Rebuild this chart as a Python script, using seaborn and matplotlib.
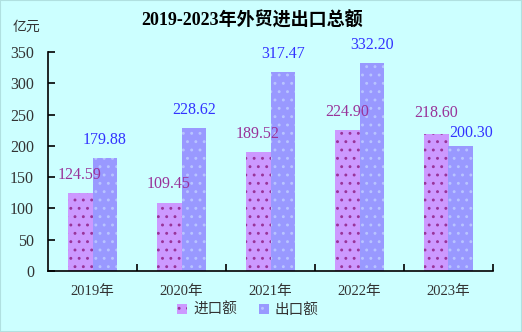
import matplotlib
matplotlib.use("Agg")
import matplotlib.pyplot as plt
from matplotlib.patches import Patch
import seaborn as sns
import pandas as pd

# Data
years = ["2019年", "2020年", "2021年", "2022年", "2023年"]
imports = [124.59, 109.45, 189.52, 224.90, 218.60]
exports = [179.88, 228.62, 317.47, 332.20, 200.30]
series_names = ["进口额", "出口额"]
y_ticks = [0, 50, 100, 150, 200, 250, 300, 350]

df = pd.DataFrame({
    "year": years * 2,
    "value": imports + exports,
    "type": [series_names[0]] * len(years) + [series_names[1]] * len(years),
})

sns.set_theme(style="white")
plt.rcParams["font.family"] = ["Liberation Serif", "Noto Sans CJK SC", "DejaVu Sans"]
plt.rcParams["hatch.linewidth"] = 0.9

bg = "#CCFFFF"
bar_colors = ["#CC99FF", "#9999FF"]
dot_colors = ["#993399", "#B8C4FF"]
label_colors = ["#993399", "#3333FF"]
text_color = "#333333"

fig = plt.figure(figsize=(5.22, 3.32), dpi=100, facecolor=bg)
ax = fig.add_axes([48 / 522, 1 - 271 / 332, (493 - 48) / 522, (271 - 52) / 332])
ax.set_facecolor(bg)

sns.barplot(data=df, x="year", y="value", hue="type", palette=bar_colors,
            width=0.56, gap=0, dodge=True, legend=False, ax=ax,
            linewidth=0, saturation=1)

# value labels sit above each bar; the last pair is spread apart so the
# two close values stay readable
label_offsets = {(0, 4): (0, 15), (1, 4): (7, 9)}

for i, container in enumerate(ax.containers):
    for j, bar in enumerate(container):
        bar.set_hatch("..")
        bar.set_edgecolor(dot_colors[i])
        bar.set_linewidth(0)
        value = container.datavalues[j]
        dx, dy = label_offsets.get((i, j), (0, 13))
        ax.annotate(f"{value:.2f}",
                    xy=(bar.get_x() + bar.get_width() / 2, value),
                    xytext=(dx, dy), textcoords="offset points",
                    ha="center", va="center", fontsize=11.5,
                    color=label_colors[i])

ax.set_xlim(-0.5, len(years) - 0.5)
ax.set_ylim(0, 350)
ax.set_yticks(y_ticks)
ax.set_xlabel("")
ax.set_ylabel("")

for side in ["top", "right"]:
    ax.spines[side].set_visible(False)
for side in ["left", "bottom"]:
    ax.spines[side].set_color("black")
    ax.spines[side].set_linewidth(1.2)

ax.tick_params(axis="y", direction="in", length=5, width=1.2, color="black",
               labelsize=11.5, labelcolor=text_color, pad=10, left=True)
ax.tick_params(axis="x", which="major", length=0, labelsize=10.5,
               labelcolor=text_color, pad=10)
ax.set_xticks([i + 0.5 for i in range(len(years))], minor=True)
ax.tick_params(axis="x", which="minor", direction="in", length=5, width=1.2,
               color="black", bottom=True)

fig.text(252 / 522, 1 - 20 / 332, "2019-2023年外贸进出口总额", ha="center",
         va="center", fontsize=13, fontweight="bold", color="black")
fig.text(26 / 522, 1 - 27 / 332, "亿元", ha="center", va="center",
         fontsize=10, color=text_color)

handles = [Patch(facecolor=bar_colors[i], edgecolor=dot_colors[i], hatch="..",
                 linewidth=0, label=series_names[i]) for i in range(2)]
leg = fig.legend(handles=handles, loc="center", bbox_to_anchor=(248 / 522, 1 - 310 / 332),
                 ncol=2, frameon=False, fontsize=10.5, handlelength=0.7,
                 handleheight=0.7, handletextpad=0.4, columnspacing=1.5)
for t in leg.get_texts():
    t.set_color(text_color)

fig.patches.append(plt.Rectangle((0, 0), 1, 1, transform=fig.transFigure,
                                 fill=False, edgecolor="#B0E0E0", linewidth=1.5))

fig.savefig("out.png", dpi=100, facecolor=bg)
